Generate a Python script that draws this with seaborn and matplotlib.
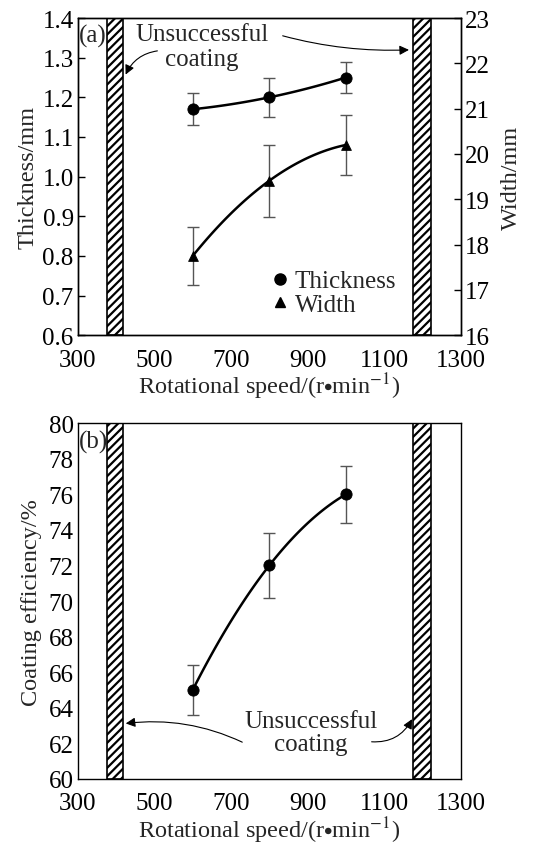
import numpy as np
import pandas as pd
import matplotlib
matplotlib.use("Agg")
import matplotlib.pyplot as plt
from matplotlib.lines import Line2D
import seaborn as sns

# ---- data ----
speeds = [600, 800, 1000]
thickness = [1.17, 1.20, 1.25]
thickness_err = [0.04, 0.05, 0.04]
width = [17.75, 19.41, 20.20]
width_err = [0.65, 0.79, 0.66]
efficiency = [65.0, 72.0, 76.0]
efficiency_err = [1.4, 1.8, 1.6]
fail_low = [375, 418]
fail_high = [1176, 1222]
xticks = [300, 500, 700, 900, 1100, 1300]

sns.set_theme(style="white")
plt.rcParams['font.family'] = ['Liberation Serif', 'DejaVu Serif']
plt.rcParams['mathtext.fontset'] = 'stix'
plt.rcParams['hatch.linewidth'] = 1.6
FS = 18
LFS = 17.5

fig = plt.figure(figsize=(5.44, 8.45), dpi=100)
ax1 = fig.add_axes([0.143, 0.602, 0.704, 0.3755])
ax3 = fig.add_axes([0.143, 0.077, 0.704, 0.421])
ax2 = ax1.twinx()

df = pd.DataFrame({"speed": speeds, "thickness": thickness, "width": width,
                   "eff": efficiency})

def hatched(ax):
    for lo, hi in (fail_low, fail_high):
        ax.axvspan(lo, hi, facecolor='white', edgecolor='black', hatch='////',
                   linewidth=1.2, zorder=1)

def style(ax):
    for s in ax.spines.values():
        s.set_color('black'); s.set_linewidth(1.0)
    ax.tick_params(direction='in', length=5, width=1, colors='black',
                   labelsize=FS, pad=3)
    ax.tick_params(axis='x', pad=9.5)

# panel (a)
hatched(ax1)
sns.regplot(data=df, x="speed", y="thickness", order=2, ci=None, scatter=False,
            truncate=True, ax=ax1, line_kws=dict(color='black', lw=1.8))
ax1.errorbar(speeds, thickness, yerr=thickness_err, fmt='none', ecolor='#555555',
             elinewidth=1.0, capsize=4, zorder=3)
sns.scatterplot(data=df, x="speed", y="thickness", marker='o', s=65, color='black',
                edgecolor='black', ax=ax1, zorder=4)
sns.regplot(data=df, x="speed", y="width", order=2, ci=None, scatter=False,
            truncate=True, ax=ax2, line_kws=dict(color='black', lw=1.8))
ax2.errorbar(speeds, width, yerr=width_err, fmt='none', ecolor='#555555',
             elinewidth=1.0, capsize=4, zorder=3)
sns.scatterplot(data=df, x="speed", y="width", marker='^', s=50, color='black',
                edgecolor='black', ax=ax2, zorder=4)

ax1.set_xlim(300, 1300); ax1.set_ylim(0.6, 1.4)
ax2.set_ylim(16, 23)
ax1.set_xticks(xticks)
ax1.set_yticks(np.arange(0.6, 1.41, 0.1))
ax1.set_yticklabels([f"{v:.1f}" for v in np.arange(0.6, 1.41, 0.1)])
ax2.set_yticks(range(16, 24))
ax1.set_xlabel(r"Rotational speed/(r$\bullet$min$^{-1}$)", fontsize=LFS, labelpad=0)
ax1.set_ylabel("Thickness/mm", fontsize=LFS, labelpad=3)
ax2.set_ylabel("Width/mm", fontsize=LFS, labelpad=8)
style(ax1); style(ax2)
ax1.text(302, 1.355, "(a)", fontsize=FS, va='center', ha='left')
ax1.text(624, 1.36, "Unsuccessful", fontsize=FS, ha='center', va='center')
ax1.text(624, 1.297, "coating", fontsize=FS, ha='center', va='center')
ax1.annotate("", xy=(422, 1.251), xytext=(515, 1.318),
             arrowprops=dict(arrowstyle='-|>', color='black', lw=0.8,
                             connectionstyle="arc3,rad=0.3", mutation_scale=14))
ax1.annotate("", xy=(1172, 1.32), xytext=(828, 1.357),
             arrowprops=dict(arrowstyle='-|>', color='black', lw=0.8,
                             connectionstyle="arc3,rad=0.08", mutation_scale=14))
handles = [Line2D([], [], marker='o', ls='none', color='black', markersize=8),
           Line2D([], [], marker='^', ls='none', color='black', markersize=7)]
ax1.legend(handles, ["Thickness", "Width"], loc='lower right', frameon=False,
           fontsize=FS, handlelength=0.6, handletextpad=0.3, labelspacing=0.05,
           borderaxespad=0, borderpad=0.2, bbox_to_anchor=(0.845, 0.045))

# panel (b)
hatched(ax3)
sns.regplot(data=df, x="speed", y="eff", order=2, ci=None, scatter=False,
            truncate=True, ax=ax3, line_kws=dict(color='black', lw=1.8))
ax3.errorbar(speeds, efficiency, yerr=efficiency_err, fmt='none', ecolor='#555555',
             elinewidth=1.0, capsize=4, zorder=3)
sns.scatterplot(data=df, x="speed", y="eff", marker='o', s=65, color='black',
                edgecolor='black', ax=ax3, zorder=4)
ax3.set_xlim(300, 1300); ax3.set_ylim(60, 80)
ax3.set_xticks(xticks)
ax3.set_yticks(range(60, 81, 2))
ax3.set_xlabel(r"Rotational speed/(r$\bullet$min$^{-1}$)", fontsize=LFS, labelpad=0)
ax3.set_ylabel("Coating efficiency/%", fontsize=LFS, labelpad=5)
style(ax3)
ax3.text(302, 79.0, "(b)", fontsize=FS, va='center', ha='left')
ax3.text(908, 63.25, "Unsuccessful", fontsize=FS, ha='center', va='center')
ax3.text(908, 61.95, "coating", fontsize=FS, ha='center', va='center')
ax3.annotate("", xy=(418, 63.1), xytext=(736, 62.0),
             arrowprops=dict(arrowstyle='-|>', color='black', lw=0.8,
                             connectionstyle="arc3,rad=0.15", mutation_scale=14))
ax3.annotate("", xy=(1176, 63.5), xytext=(1060, 62.1),
             arrowprops=dict(arrowstyle='-|>', color='black', lw=0.8,
                             connectionstyle="arc3,rad=0.35", mutation_scale=14))

fig.savefig("out.png", dpi=100)
